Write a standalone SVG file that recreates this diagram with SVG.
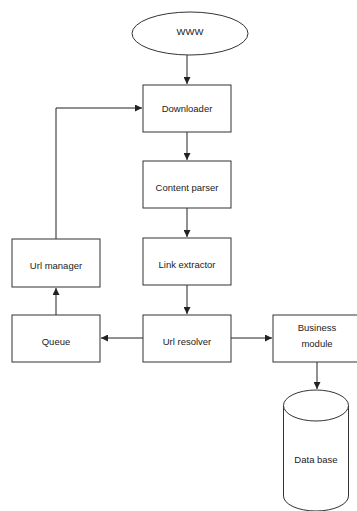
<svg xmlns="http://www.w3.org/2000/svg" width="357" height="511" viewBox="0 0 357 511">
<style>
.box{fill:#fff;stroke:#333;stroke-width:1}
.lbl{font-family:"Liberation Sans",Arial,sans-serif;font-size:9.5px;fill:#222;text-anchor:middle;dominant-baseline:central}
.con{fill:none;stroke:#222;stroke-width:1;marker-end:url(#ah)}
</style>
<defs>
<marker id="ah" viewBox="0 0 8 8" refX="8" refY="4" markerWidth="7" markerHeight="7" markerUnits="userSpaceOnUse" orient="auto">
<path d="M0,0 L8,4 L0,8 z" fill="#222"/>
</marker>
</defs>
<rect width="357" height="511" fill="#fff"/>
<g id="connectors">
<path class="con" d="M187,55 V84"/>
<path class="con" d="M187,132 V160"/>
<path class="con" d="M187,208 V237"/>
<path class="con" d="M187,285 V314"/>
<path class="con" d="M143,338 H101"/>
<path class="con" d="M231,338 H272"/>
<path class="con" d="M56,315 V288"/>
<path class="con" d="M56,239 V108 H142"/>
<path class="con" d="M317,362 V389"/>
</g>
<g id="www">
<ellipse class="box" cx="190" cy="33.5" rx="58" ry="21.5"/>
<text class="lbl" x="190" y="31">WWW</text>
</g>
<g id="downloader">
<rect class="box" x="143" y="85" width="88" height="47"/>
<text class="lbl" x="187" y="108">Downloader</text>
</g>
<g id="content-parser">
<rect class="box" x="143" y="161" width="88" height="47"/>
<text class="lbl" x="187" y="187">Content parser</text>
</g>
<g id="link-extractor">
<rect class="box" x="143" y="238" width="88" height="47"/>
<text class="lbl" x="187" y="264">Link extractor</text>
</g>
<g id="url-resolver">
<rect class="box" x="143" y="315" width="88" height="47"/>
<text class="lbl" x="187" y="341">Url resolver</text>
</g>
<g id="url-manager">
<rect class="box" x="12" y="239" width="88" height="48"/>
<text class="lbl" x="56" y="265">Url manager</text>
</g>
<g id="queue">
<rect class="box" x="12" y="315" width="88" height="47"/>
<text class="lbl" x="56" y="341">Queue</text>
</g>
<g id="business-module">
<rect class="box" x="273" y="315" width="90" height="47"/>
<text class="lbl" x="317" y="327">Business</text>
<text class="lbl" x="317" y="343">module</text>
</g>
<g id="database">
<path class="box" d="M283.5,405.5 V496 A32.5,15 0 0 0 348.5,496 V405.5"/>
<ellipse class="box" cx="316" cy="405.5" rx="32.5" ry="15.5"/>
<text class="lbl" x="316" y="459">Data base</text>
</g>
</svg>
